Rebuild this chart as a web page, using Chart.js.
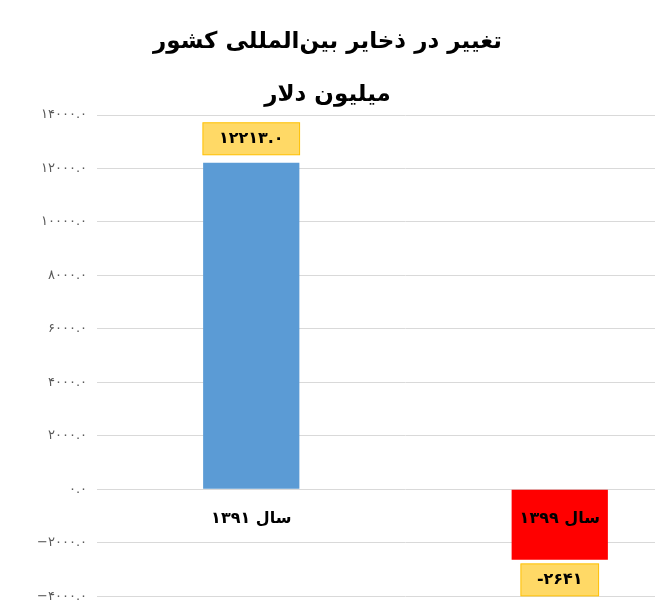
<!DOCTYPE html>
<html><head><meta charset="utf-8">
<script src="https://cdn.jsdelivr.net/npm/chart.js@4"></script>
<style>
body{margin:0;background:#fff;overflow:hidden;width:655px;height:614px;position:relative;font-family:"DejaVu Sans",sans-serif}
#t{position:absolute;top:14px;left:0;width:655px;text-align:center;font-weight:bold;font-size:23px;line-height:53px;color:#000;direction:rtl}
#c{position:absolute;left:0;top:0}
</style></head><body>
<canvas id="c" width="714" height="614"></canvas>
<div id="t">تغییر در ذخایر بین‌المللی کشور<br>میلیون دلار</div>
<script>
const categories=['سال ۱۳۹۱','سال ۱۳۹۹'];
const values=[12213,-2641];
const valueLabels=['۱۲۲۱۳.۰','-۲۶۴۱'];
const barColors=['#5b9bd5','#ff0000'];
const fa=s=>String(s).replace(/\d/g,d=>'۰۱۲۳۴۵۶۷۸۹'[d]);
const labelsPlugin={id:'lbl',afterDatasetsDraw(ch){
  const c=ch.ctx,x=ch.scales.x,y=ch.scales.y;
  c.save();c.textAlign='center';c.textBaseline='middle';
  categories.forEach((cat,i)=>{
    c.font='bold 16px "DejaVu Sans"';c.fillStyle='#000';
    c.fillText(cat,x.getPixelForValue(i),y.getPixelForValue(0)+30);
    const v=values[i];const px=x.getPixelForValue(i);
    const py=v>=0?y.getPixelForValue(v)-24:y.getPixelForValue(v)+20;
    c.font='bold 16px "DejaVu Sans"';
    const w=c.measureText(valueLabels[i]).width+32,h=32;
    c.fillStyle='#ffd966';c.fillRect(px-w/2,py-h/2,w,h);
    c.strokeStyle='#ffc000';c.lineWidth=1;c.strokeRect(px-w/2,py-h/2,w,h);
    c.fillStyle='#000';c.fillText(valueLabels[i],px,py);
  });
  c.restore();
}};
new Chart(document.getElementById('c'),{type:'bar',
 data:{labels:categories,datasets:[{data:values,backgroundColor:barColors,barPercentage:0.52,categoryPercentage:0.6}]},
 options:{responsive:false,animation:false,layout:{padding:{top:115,bottom:3,left:8,right:0}},
  plugins:{legend:{display:false},tooltip:{enabled:false}},
  scales:{x:{ticks:{display:false},grid:{display:false},border:{display:false}},
   y:{min:-4000,max:14000,afterFit:s=>{s.width=89;},ticks:{stepSize:2000,padding:10,color:'#595959',font:{size:13,family:'DejaVu Sans'},callback:v=>(v<0?'−':'')+fa(Math.abs(v)+'.0')},
    grid:{color:'#d9d9d9',drawTicks:false},border:{display:false}}}},
 plugins:[labelsPlugin]});
</script></body></html>
